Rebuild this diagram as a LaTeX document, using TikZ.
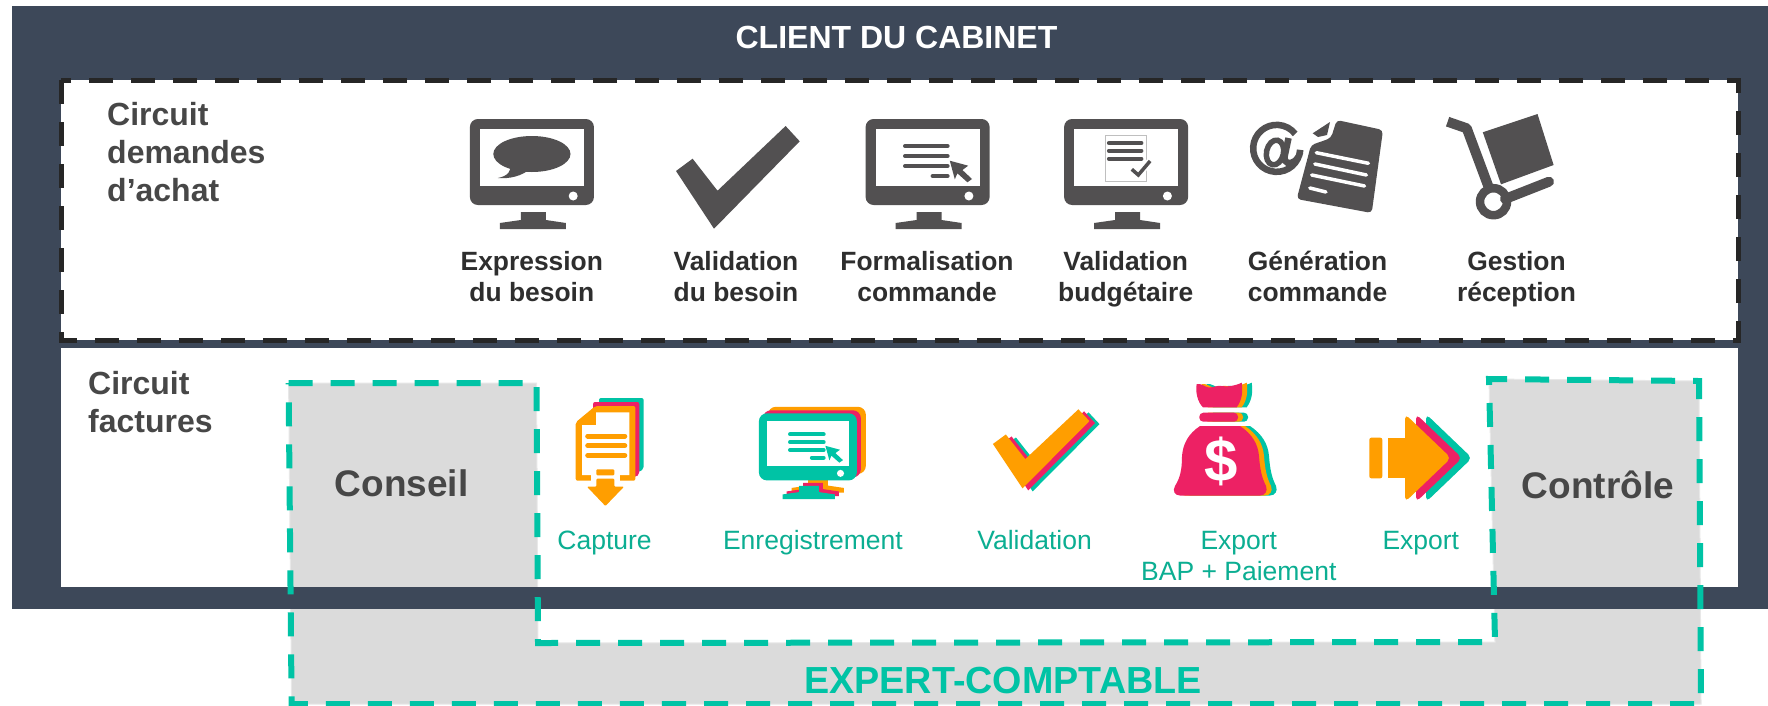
\documentclass[tikz,border=0pt]{standalone}
\usepackage{fontspec}
\setmainfont{Liberation Sans}
\definecolor{cabinet}{HTML}{3D4859}
\definecolor{teal}{HTML}{00C3A5}
\definecolor{tealtext}{HTML}{0BAE92}
\definecolor{pink}{HTML}{ED2164}
\definecolor{orange}{HTML}{FF9E00}
\definecolor{icon}{HTML}{525051}
\definecolor{zone}{HTML}{DBDBDB}
\tikzset{
  headlabel/.style={inner sep=0pt,anchor=base west,align=left,text=black!72,font=\bfseries\fontsize{32}{38}\selectfont},
  steplabel/.style={inner sep=0pt,anchor=base,align=center,text=black!82,font=\bfseries\fontsize{26.4}{31}\selectfont},
  factlabel/.style={inner sep=0pt,anchor=base,align=center,text=tealtext,font=\fontsize{26.5}{31.4}\selectfont},
  bline/.style={line width=4pt,line cap=round},
}
\newcommand{\monitorbody}[1]{
  \fill[#1,rounded corners=8pt] (0,0) rectangle (124,86);
  \fill[#1] (30,110) -- (30,104) -- (51,101) -- (51,93) -- (76,93) -- (76,101) -- (96,104) -- (96,110) -- cycle;
}
\newcommand{\monitorscreen}{
  \fill[white] (10,10) rectangle (114,67);
  \fill[white] (103.3,77) circle (4.5);
}
\newcommand{\monitorform}[1]{
  \draw[bline,#1] (39.4,27) -- (82,27);
  \draw[bline,#1] (39.4,37) -- (82,37);
  \draw[bline,#1] (39.4,47) -- (82,47);
  \draw[bline,#1] (67,57) -- (82,57);
  \fill[#1] (84.2,41.7) -- (102.6,46.7) -- (96.8,51) -- (106.4,60) -- (101.8,63.3) -- (91.8,54.3) -- (89.2,60.3) -- cycle;
}
\newcommand{\tickshape}[1]{
  \fill[#1] (0,45) -- (16.6,32.7) -- (41.5,64.7) -- (109.6,0) -- (123.7,15.3) -- (38,102.7) -- cycle;
}
\newcommand{\bagshape}[1]{
  \fill[#1] (1196.7,384) .. controls (1201,383) and (1205,387) .. (1208,387.3) .. controls (1213,388) and (1217,385) .. (1221.7,386) .. controls (1226,387) and (1235,386) .. (1241.7,382.7) .. controls (1243,392) and (1242,400) .. (1236.7,407.3) -- (1203,407.3) .. controls (1198,403) and (1195,392) .. cycle;
  \fill[#1,rounded corners=4pt] (1199.3,412.7) rectangle (1238,421.7);
  \fill[#1] (1200,426) -- (1240,426) .. controls (1252,434) and (1258,444) .. (1259,456) .. controls (1260,470) and (1262,478) .. (1266,486) .. controls (1268,491) and (1265,495.5) .. (1260,495.5) -- (1180,495.5) .. controls (1175,495.5) and (1172,491) .. (1175,486) .. controls (1180,478) and (1182,470) .. (1182,456) .. controls (1183,444) and (1188,434) .. (1200,426) -- cycle;
}
\newcommand{\headshape}[1]{
  \fill[#1,rounded corners=5pt] (1405,414) -- (1451,458) -- (1405,502) -- cycle;
}
\begin{document}
\begin{tikzpicture}[x=1pt,y=-1pt]
    \useasboundingbox (0,0) rectangle (1768,705);

    \fill[cabinet] (12,6) rectangle (1768,609);
    \fill[white] (61,80) rectangle (1738,340);
    \fill[white] (61,348) rectangle (1738,587);

    \draw[line width=5pt,black!85,dash pattern=on 24pt off 18pt] (61,80) -- (61,340) -- (1738,340) -- (1738,80) -- cycle;

    \path[fill=zone,draw=black!9,line width=1pt] (288.6,383) -- (536.5,383) -- (538,643) -- (1495,642) -- (1489,379) -- (1699,381) -- (1701,704) -- (291.6,704) -- cycle;
    \fill[cabinet] (12,587) rectangle (1768,609);
    \draw[line width=6pt,teal,dash pattern=on 24pt off 18pt] (288.6,383) -- (536.5,383) -- (538,643) -- (1495,642) -- (1489,379) -- (1699,381) -- (1701,704) -- (291.6,704) -- cycle;

    \node[inner sep=0pt,anchor=base,text=white,font=\bfseries\fontsize{32}{38}\selectfont] at (896.5,48) (client) {CLIENT DU CABINET};
    \node[headlabel] at (107,201) (demandes) {Circuit\\demandes\\d’achat};
    \node[headlabel] at (88,432.7) (factures) {Circuit\\factures};

    \begin{scope}[shift={(469.9,119)}]
        \monitorbody{icon}
        \monitorscreen
        \fill[icon] (62,35) ellipse (38.6 and 18);
        \fill[icon] (40,45) .. controls (42,52) and (38,57) .. (28,59) .. controls (40,60) and (52,57) .. (60,50) -- cycle;
    \end{scope}
    \begin{scope}[shift={(676,126)}]
        \tickshape{icon}
    \end{scope}
    \begin{scope}[shift={(865.6,119)}]
        \monitorbody{icon}
        \monitorscreen
        \monitorform{icon}
    \end{scope}
    \begin{scope}[shift={(1064.1,119)}]
        \monitorbody{icon}
        \monitorscreen
        \draw[fill=white,draw=black!25,line width=1pt] (41,16.7) rectangle (81.9,62);
        \draw[bline,icon] (44.8,24) -- (77.3,24);
        \draw[bline,icon] (44.8,31.7) -- (77.3,31.7);
        \draw[bline,icon] (44.8,39.7) -- (77.3,39.7);
        \draw[white,line width=7pt] (67.7,50.3) -- (74.2,56) -- (86,42);
        \draw[icon,line width=3.5pt] (67.7,50.3) -- (74.2,56) -- (86,42);
    \end{scope}

    \fill[icon,rounded corners=4pt] (1336.7,120) -- (1383,130) -- (1371.7,213) -- (1296.7,199) -- (1311,145) -- (1320,142) -- (1331,138) -- cycle;
    \fill[icon] (1312.7,133.3) -- (1330,122) -- (1327,135) -- (1318,137) -- cycle;
    \draw[white,line width=3.5pt,line cap=round] (1316.3,152.7) -- (1368.4,163.3);
    \draw[white,line width=3.5pt,line cap=round] (1314.8,164) -- (1366.4,175);
    \draw[white,line width=3.5pt,line cap=round] (1311.7,175) -- (1364.5,186);
    \draw[white,line width=3.5pt,line cap=round] (1309.8,188) -- (1325.9,192);
    \fill[white] (1276.7,151.7) circle (31);
    \draw[icon,line width=6.5pt] (1288.5,138) -- (1284.5,157) .. controls (1283.5,163) and (1290,165) .. (1295,161) .. controls (1299,157) and (1300.2,154) .. (1300.1,150) arc (4:322:23.5);
    \draw[icon,line width=5.5pt,rotate around={-12:(1275,152.5)}] (1275,152.5) ellipse (8.5 and 12.5);

    \fill[icon] (1482.8,132.3) -- (1537.5,114) -- (1553.6,165) -- (1501,184.3) -- cycle;
    \draw[icon,line width=10pt,line join=round] (1447.6,121.7) -- (1466.7,128.3) -- (1489.7,190);
    \draw[icon,line width=10pt,line cap=round] (1505,199) -- (1549,181.7);
    \draw[icon,line width=8.5pt] (1493.5,201.7) circle (13.5);

    \node[steplabel] at (531.8,301.7) (besoin) {Expression\\du besoin};
    \node[steplabel] at (736,301.7) (valbesoin) {Validation\\du besoin};
    \node[steplabel] at (927,301.7) (formal) {Formalisation\\commande};
    \node[steplabel] at (1125.7,301.7) (budget) {Validation\\budgétaire};
    \node[steplabel] at (1317.5,301.7) (genere) {Génération\\commande};
    \node[steplabel] at (1516.5,301.7) (reception) {Gestion\\réception};

    \node[inner sep=0pt,anchor=base,text=black!72,font=\bfseries\fontsize{37}{37}\selectfont] at (401.7,496.7) (conseil) {Conseil};
    \node[inner sep=0pt,anchor=base,text=black!72,font=\bfseries\fontsize{37}{37}\selectfont] at (1598,498.7) (controle) {Contrôle};
    \node[inner sep=0pt,anchor=base,text=teal,font=\bfseries\fontsize{37.7}{37}\selectfont] at (1003,693.3) (expert) {EXPERT-COMPTABLE};

    \fill[teal,rounded corners=2pt] (599,398) -- (643.6,398) -- (643.6,469) -- (639,472) -- (600,472) -- cycle;
    \fill[pink,rounded corners=2pt] (593,402) -- (639.3,402) -- (639.3,474) -- (636,477) -- (595,477) -- cycle;
    \fill[orange,rounded corners=2pt] (575.7,422.3) -- (595.4,406) -- (635.4,406) -- (635.4,480.7) -- (575.7,480.7) -- cycle;
    \fill[white] (582.1,425) -- (596,425) -- (596,412.3) -- (629.3,412.3) -- (629.3,475) -- (582.1,475) -- cycle;
    \fill[white] (591,470) rectangle (619.6,483);
    \draw[orange,line width=5pt,line cap=round] (587.7,436) -- (624.8,436);
    \draw[orange,line width=5pt,line cap=round] (587.7,445.7) -- (624.8,445.7);
    \draw[orange,line width=5pt,line cap=round] (587.7,455.3) -- (624.8,455.3);
    \fill[orange,rounded corners=1pt] (596.4,469.3) rectangle (614.3,475.3);
    \fill[orange,rounded corners=1pt] (596.4,478.7) -- (614.3,478.7) -- (614.3,486.7) -- (624,486.7) -- (605.4,506) -- (587,486.7) -- (596.4,486.7) -- cycle;

    \begin{scope}[shift={(767.9,406.8)},xscale=.79,yscale=.78]
        \monitorbody{orange}
    \end{scope}
    \begin{scope}[shift={(762.9,410.3)},xscale=.79,yscale=.78]
        \monitorbody{pink}
    \end{scope}
    \begin{scope}[shift={(758.9,413.3)},xscale=.79,yscale=.78]
        \monitorbody{teal}
        \monitorscreen
        \monitorform{teal}
    \end{scope}

    \begin{scope}[shift={(1003,412.3)},xscale=.78,yscale=.77]
        \tickshape{teal}
    \end{scope}
    \begin{scope}[shift={(998.6,411.3)},xscale=.78,yscale=.77]
        \tickshape{pink}
    \end{scope}
    \begin{scope}[shift={(992.9,409.3)},xscale=.78,yscale=.77]
        \tickshape{orange}
    \end{scope}

    \begin{scope}[shift={(10,0)}]
        \bagshape{teal}
    \end{scope}
    \begin{scope}[shift={(5,0)}]
        \bagshape{orange}
    \end{scope}
    \bagshape{pink}
    \node[inner sep=0pt,text=white,font=\bfseries\fontsize{60}{60}\selectfont] at (1221.5,461) (dollar) {\$};

    \begin{scope}[shift={(21,0)}]
        \headshape{teal}
    \end{scope}
    \begin{scope}[shift={(11,0)}]
        \headshape{pink}
    \end{scope}
    \headshape{orange}
    \fill[orange,rounded corners=2pt] (1369.3,437.7) rectangle (1382.3,478.3);
    \fill[orange] (1388,437.7) rectangle (1410,478.3);

    \node[factlabel] at (604.6,549.3) (capture) {Capture};
    \node[factlabel] at (812.9,549.3) (enregistre) {Enregistrement};
    \node[factlabel] at (1034.6,549.3) (validation) {Validation};
    \node[factlabel] at (1238.8,580.7) (paiement) {Export\\BAP + Paiement};
    \node[factlabel] at (1420.8,549.3) (export) {Export};
\end{tikzpicture}
\end{document}
